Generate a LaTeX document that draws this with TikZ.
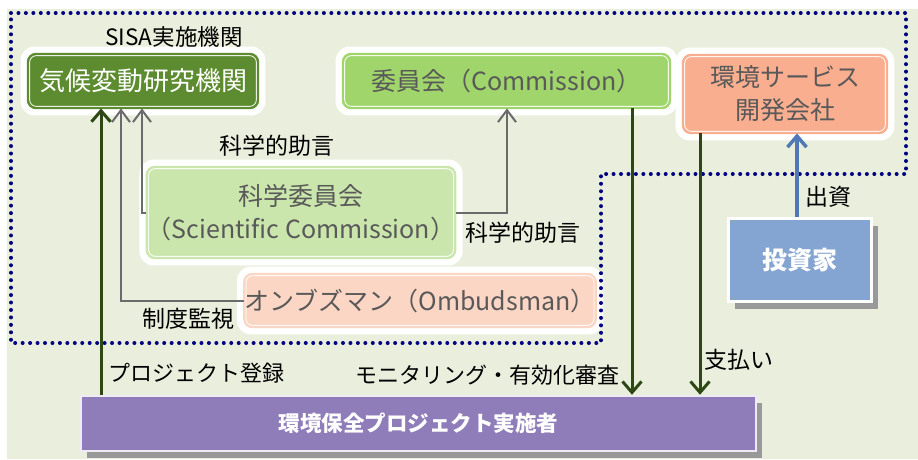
\documentclass[tikz,border=0pt]{standalone}
\usepackage{fontspec}
\setmainfont{Noto Sans CJK JP}
\usetikzlibrary{arrows.meta,backgrounds,shadows}
\definecolor{bgc}{HTML}{EAEEDC}
\definecolor{navyd}{HTML}{000080}
\definecolor{kikoc}{HTML}{5C8C2F}
\definecolor{iinc}{HTML}{A0D56B}
\definecolor{kagc}{HTML}{CBE6AC}
\definecolor{ombc}{HTML}{FCD6C4}
\definecolor{kanc}{HTML}{F9AE8F}
\definecolor{toc}{HTML}{84A4D2}
\definecolor{proc}{HTML}{8F7DB9}
\definecolor{darkg}{HTML}{2D4814}
\definecolor{grayar}{HTML}{6B6B6B}
\definecolor{bluear}{HTML}{4F79B4}
\definecolor{txtg}{HTML}{595959}
\tikzset{
  boxfont/.style={font=\fontsize{25}{33}\selectfont},
  lblfont/.style={font=\fontsize{23}{27}\selectfont},
  rbox/.style={rounded corners=8pt, draw=white, double=#1, double distance=2.4pt,
    line width=0.9pt, fill=#1, inner sep=0pt, align=center, boxfont, text=txtg},
  glow/.style={fill=white, rounded corners=14pt},
  sqbox/.style={fill=#1, inner sep=0pt, align=center, text=white,
    drop shadow={shadow xshift=6pt, shadow yshift=-7pt, opacity=1, fill=black!40}},
  darkarr/.style={draw=darkg, line width=3pt, -{Straight Barb[length=11pt,width=19pt]}},
  grayarr/.style={draw=grayar, line width=2pt, -{Straight Barb[length=12pt,width=18pt]}},
  bluearr/.style={draw=bluear, line width=3.5pt, -{Straight Barb[length=11pt,width=19pt]}},
  lbl/.style={lblfont, text=black, inner sep=0pt}
}
\begin{document}
\begin{tikzpicture}[x=1pt,y=-1pt]
\useasboundingbox (0,0) rectangle (918,459);

% boxes
\node[rbox=kikoc, text=white, minimum width=230pt, minimum height=54pt,
  font=\fontsize{26}{30}\selectfont] (kiko) at (143,81) {気候変動研究機関};
\node[rbox=iinc, minimum width=327pt, minimum height=54pt] (iin) at (506.5,81) {委員会（Commission）};
\node[rbox=kanc, minimum width=204pt, minimum height=78pt] (kan) at (785,94) {環境サービス\\開発会社};
\node[rbox=kagc, minimum width=302pt, minimum height=91pt] (kag) at (301,212.5) {科学委員会\\（Scientific Commission）};
\node[rbox=ombc, minimum width=344pt, minimum height=53pt] (omb) at (420,300.5) {オンブズマン（Ombudsman）};
\node[sqbox=toc, draw=white, line width=3pt, minimum width=143pt, minimum height=83pt,
  font=\fontsize{25}{29}\selectfont\bfseries] (tou) at (800,260) {投資家};
\node[sqbox=proc, draw=proc!15, line width=2.5pt, minimum width=675pt, minimum height=55pt,
  font=\fontsize{21.5}{25}\selectfont\bfseries] (pro) at (418.5,423.5) {環境保全プロジェクト実施者};

\begin{scope}[on background layer]
  \fill[bgc] (7,9) rectangle (918,459);
  \foreach \n in {kiko,iin,kan,kag,omb}{
    \fill[glow] ([shift={(-7,7)}]\n.south west) rectangle ([shift={(7,-7)}]\n.north east);
  }
\end{scope}

% dotted boundary
\draw[navyd, line width=4pt, line cap=round, dash pattern=on 0pt off 7.45pt]
  (11,13) -- (906,13) -- (906,174) -- (601,174) -- (601,343) -- (11,343) -- cycle;

% helper x positions
\coordinate (xa) at (101,0);
\coordinate (xb) at (121,0);
\coordinate (xc) at (142,0);
\coordinate (xd) at (507,0);
\coordinate (xe) at (632,0);
\coordinate (xf) at (700,0);
\coordinate (xg) at (797,0);

% connectors
\draw[darkarr] (pro.north -| xa) -- (kiko.south -| xa);
\draw[grayarr] (omb.west) -| (kiko.south -| xb);
\draw[grayarr] (kag.west) -| (kiko.south -| xc);
\draw[grayarr] (kag.east) -| (iin.south -| xd);
\draw[darkarr] (iin.south -| xe) -- (pro.north -| xe);
\draw[darkarr] (kan.south -| xf) -- (pro.north -| xf);
\draw[bluearr] (tou.north -| xg) -- (kan.south -| xg);

% labels
\node[lbl, font=\fontsize{22.5}{26}\selectfont] (sisa) at (174,37) {SISA実施機関};
\node[lbl] (l1) at (277,146) {科学的助言};
\node[lbl] (l2) at (523,233) {科学的助言};
\node[lbl] (l3) at (188,319) {制度監視};
\node[lbl, font=\fontsize{22}{26}\selectfont] (l4) at (196,373) {プロジェクト登録};
\node[lbl, font=\fontsize{22}{26}\selectfont] (l5) at (487,375) {モニタリング・有効化審査};
\node[lbl] (l6) at (739,360) {支払い};
\node[lbl] (l7) at (828,197) {出資};
\end{tikzpicture}
\end{document}
